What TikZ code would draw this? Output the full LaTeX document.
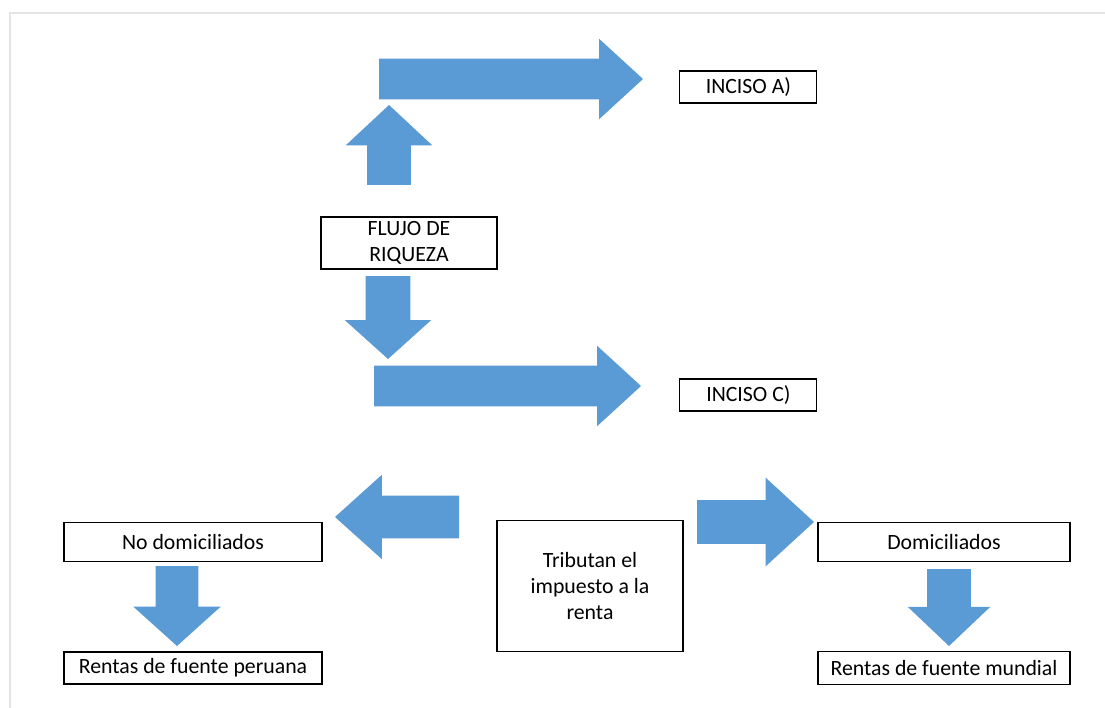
\documentclass[tikz,border=0pt]{standalone}
\usepackage{fontspec}
\setmainfont{Carlito}
\usepackage{xcolor}
\usepackage{tikz}
\usetikzlibrary{shapes.arrows}
\definecolor{flowBlue}{HTML}{5B9BD5}
\definecolor{pageShadow}{HTML}{E4E4E4}

\begin{document}
\begin{tikzpicture}[
        box/.style={draw=black, line width=0.8pt, fill=white, inner sep=2pt, align=center, font=\fontsize{15.5}{18.5}\selectfont},
        blk/.style={single arrow, fill=flowBlue, draw=none, outer sep=0pt, anchor=tail}
    ]
        \useasboundingbox (0,0) rectangle (27.625,-17.7);
        \draw[pageShadow, line width=1.4pt] (0.25,-17.7) -- (0.25,-0.325) -- (27.625,-0.325);

        \node[box, minimum width=3.425cm, minimum height=0.8cm] (incisoA) at (18.71,-2.175) {INCISO A)};
        \node[box, minimum width=3.425cm, minimum height=0.8cm] (incisoC) at (18.71,-9.875) {INCISO C)};
        \node[box, minimum width=4.4cm, minimum height=1.3cm] (flujo) at (10.225,-6.075) {FLUJO DE\\RIQUEZA};
        \node[box, minimum width=6.45cm, minimum height=0.975cm] (nodom) at (4.825,-13.54) {No domiciliados};
        \node[box, minimum width=6.45cm, minimum height=0.8cm] (peruana) at (4.825,-16.7) {Rentas de fuente peruana};
        \node[box, minimum width=4.65cm, minimum height=3.275cm] (tributan) at (14.75,-14.66) {Tributan el\\impuesto a la\\renta};
        \node[box, minimum width=6.3cm, minimum height=0.975cm] (dom) at (23.6,-13.54) {Domiciliados};
        \node[box, minimum width=6.3cm, minimum height=0.825cm] (mundial) at (23.6,-16.71) {Rentas de fuente mundial};

        \node[blk, shape border rotate=90, inner sep=0.5375cm, minimum height=2cm, minimum width=2.15cm, single arrow head extend=0.5375cm, single arrow tip angle=94] (upA) at (9.725,-4.625) {};
        \node[blk, inner sep=0.5cm, minimum height=6.6cm, minimum width=2cm, single arrow head extend=0.5cm, single arrow tip angle=85] (toA) at (9.475,-1.975) {};
        \node[blk, shape border rotate=270, inner sep=0.55cm, minimum height=2.075cm, minimum width=2.15cm, single arrow head extend=0.525cm, single arrow tip angle=96] (downC) at (9.7,-6.9) {};
        \node[blk, inner sep=0.5cm, minimum height=6.675cm, minimum width=2cm, single arrow head extend=0.5cm, single arrow tip angle=85] (toC) at (9.35,-9.65) {};
        \node[blk, shape border rotate=180, inner sep=0.525cm, minimum height=3.1cm, minimum width=2.1cm, single arrow head extend=0.525cm, single arrow tip angle=84] (toNodom) at (11.475,-12.925) {};
        \node[blk, inner sep=0.5375cm, minimum height=2.925cm, minimum width=2.2cm, single arrow head extend=0.5625cm, single arrow tip angle=85] (toDom) at (17.425,-13.05) {};
        \node[blk, shape border rotate=270, inner sep=0.525cm, minimum height=2cm, minimum width=2.175cm, single arrow head extend=0.5625cm, single arrow tip angle=96] (toPeruana) at (4.425,-14.15) {};
        \node[blk, shape border rotate=270, inner sep=0.5375cm, minimum height=1.925cm, minimum width=2.05cm, single arrow head extend=0.4875cm, single arrow tip angle=93] (toMundial) at (23.725,-14.225) {};
    \end{tikzpicture}
\end{document}
